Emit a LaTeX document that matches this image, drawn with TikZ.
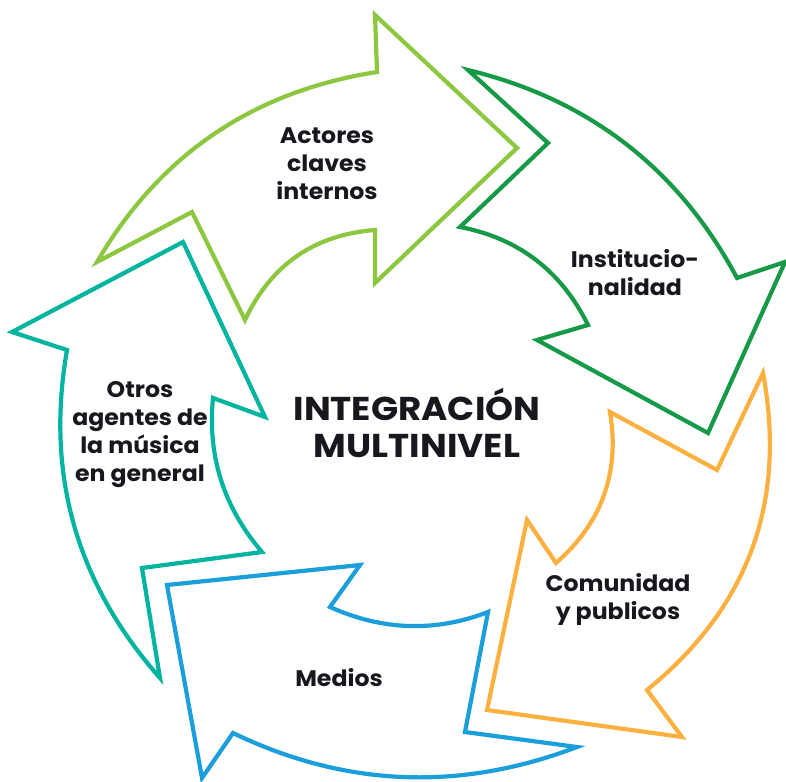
\documentclass[tikz,border=0pt]{standalone}
\usepackage{fontspec}
\setmainfont{Poppins}
\newfontfamily\labfont{Poppins}[FakeStretch=1.05]
\newfontfamily\titlefont{Poppins}[FakeStretch=1.08]
\definecolor{cLight}{HTML}{8DC63F}
\definecolor{cDark}{HTML}{169A48}
\definecolor{cOrange}{HTML}{FBB040}
\definecolor{cBlue}{HTML}{1B9FDB}
\definecolor{cTeal}{HTML}{00B4A0}
\definecolor{cText}{HTML}{16181D}
\begin{document}
\begin{tikzpicture}[x=1pt,y=-1pt,
  arrowshape/.style={line width=4.2pt, fill=white, line join=miter, miter limit=25},
  lab/.style={font=\labfont\bfseries\fontsize{22.5}{28}\selectfont, align=center, text=cText, inner sep=0pt},
  title/.style={font=\titlefont\bfseries\fontsize{33}{37}\selectfont, align=center, text=cText, inner sep=0pt}]
\useasboundingbox (0,0) rectangle (786,781);
% Actores claves internos (light green)
\draw[arrowshape, draw=cLight] (97,262) .. controls (159.7,154.7) and (253,91.3) .. (377,72)
  -- (375,15) -- (517,148) -- (375,283) -- (375,230)
  .. controls (314.3,234.7) and (271,264.7) .. (245,320) -- (192,212) -- cycle;
% Institucionalidad (dark green)
\draw[arrowshape, draw=cDark] (468,70) -- (548,143) -- (460,227)
  .. controls (518.7,238.3) and (561.3,271) .. (588,325)
  -- (537,340) -- (708,433) -- (785,262) -- (737,278)
  .. controls (678.7,168.7) and (589,99.3) .. cycle;
% Comunidad y publicos (orange)
\draw[arrowshape, draw=cOrange] (763,373) -- (717,470) -- (610,412)
  .. controls (620,472.3) and (602,522.7) .. (556,563)
  -- (527,520) -- (487,710) -- (682,737) -- (647,690)
  .. controls (748.3,607.7) and (787,502) .. cycle;
% Medios (blue)
\draw[arrowshape, draw=cBlue] (577,747) -- (465,732) -- (488,612)
  .. controls (435.3,632.3) and (382.7,630.7) .. (330,607)
  -- (360,565) -- (167,585) -- (202,778) -- (233,733)
  .. controls (345,787) and (459.7,791.7) .. cycle;
% Otros agentes (teal)
\draw[arrowshape, draw=cTeal] (160,678) -- (142,568) -- (262,552)
  .. controls (223.7,507.3) and (207.3,456) .. (213,398)
  -- (265,417) -- (183,242) -- (12,332) -- (67,350)
  .. controls (45.3,474) and (76.3,583.3) .. cycle;
% labels
\node[title] (center) at (417,423) {INTEGRACIÓN\\MULTINIVEL};
\node[lab] (actores) at (327,164) {Actores\\claves\\internos};
\node[lab] (inst) at (635,273) {Institucio-\\nalidad};
\node[lab] (comu) at (618,599) {Comunidad\\y publicos};
\node[lab] (medios) at (339,678) {Medios};
\node[lab] (otros) at (140,435) {Otros\\agentes de\\la música\\en general};
\end{tikzpicture}
\end{document}
